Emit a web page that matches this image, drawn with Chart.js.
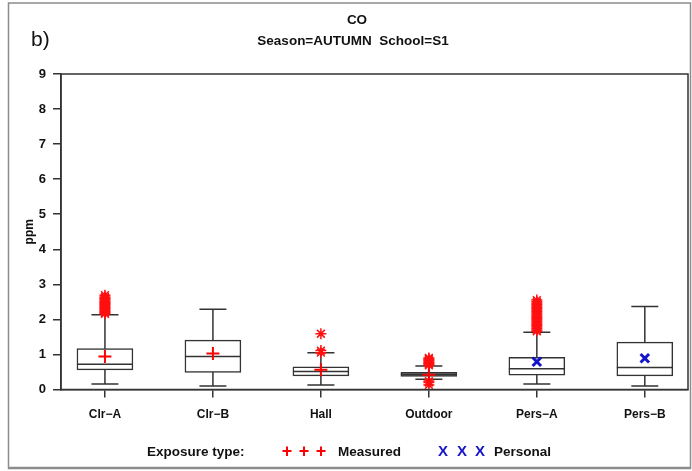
<!DOCTYPE html>
<html>
<head>
<meta charset="utf-8">
<script src="https://cdn.jsdelivr.net/npm/chart.js@4.4.0/dist/chart.umd.min.js"></script>
<style>
    html, body { margin: 0; padding: 0; background: #fff; }
</style>
</head>
<body>
<canvas id="myChart" width="692" height="471"></canvas>
<script>
// data
const categories = ['Clr−A', 'Clr−B', 'Hall', 'Outdoor', 'Pers−A', 'Pers−B'];
const yTicks = [0, 1, 2, 3, 4, 5, 6, 7, 8, 9];

const whiskerLow = [0.16, 0.10, 0.13, 0.29, 0.16, 0.10];
const q1 = [0.56, 0.49, 0.39, 0.37, 0.41, 0.39];
const median = [0.72, 0.94, 0.51, 0.43, 0.59, 0.63];
const q3 = [1.17, 1.41, 0.65, 0.49, 0.92, 1.35];
const whiskerHigh = [2.13, 2.29, 1.05, 0.67, 1.63, 2.37];

const measuredMean = [0.94, 1.03, 0.56, 0.42, null, null];
const personalMean = [null, null, null, null, 0.79, 0.89];

const outliersClrA = [2.16, 2.19, 2.22, 2.25, 2.28, 2.31, 2.34, 2.37, 2.40, 2.43, 2.46, 2.49, 2.52, 2.55, 2.58, 2.61, 2.64, 2.69];
const outliersHall = [1.05, 1.11, 1.59];
const outliersOutdoor = [0.13, 0.20, 0.24, 0.69, 0.72, 0.75, 0.78, 0.81, 0.84, 0.87, 0.90];
const outliersPersA = [1.66, 1.70, 1.74, 1.78, 1.82, 1.86, 1.90, 1.94, 1.98, 2.02, 2.06, 2.10, 2.14, 2.18, 2.22, 2.26, 2.30, 2.34, 2.38, 2.42, 2.46, 2.50, 2.55];

const outliers = [
    [0, outliersClrA],
    [2, outliersHall],
    [3, outliersOutdoor],
    [4, outliersPersA],
];

const boxFill = ['#ffffff', '#ffffff', '#ffffff', '#9a9a9a', '#ffffff', '#ffffff'];
const lineColor = '#333333';

// whiskers behind boxes, medians on top of the boxes, frame + texts at the end
const boxPlotPlugin = {
    id: 'boxPlot',
    beforeDatasetsDraw(chart) {
        const ctx = chart.ctx;
        const xs = chart.scales.x, ys = chart.scales.y;
        ctx.save();
        ctx.strokeStyle = lineColor;
        ctx.lineWidth = 1.5;
        categories.forEach((c, i) => {
            const x = xs.getPixelForValue(i + 1);
            const lo = ys.getPixelForValue(whiskerLow[i]);
            const hi = ys.getPixelForValue(whiskerHigh[i]);
            ctx.beginPath();
            ctx.moveTo(x, lo); ctx.lineTo(x, hi);
            ctx.moveTo(x - 13.5, lo); ctx.lineTo(x + 13.5, lo);
            ctx.moveTo(x - 13.5, hi); ctx.lineTo(x + 13.5, hi);
            ctx.stroke();
        });
        ctx.restore();
    },
    afterDatasetDraw(chart, args) {
        if (args.index !== 0) return;
        const ctx = chart.ctx;
        const xs = chart.scales.x, ys = chart.scales.y;
        ctx.save();
        ctx.strokeStyle = lineColor;
        ctx.lineWidth = 1.5;
        categories.forEach((c, i) => {
            const x = xs.getPixelForValue(i + 1);
            const y = ys.getPixelForValue(median[i]);
            ctx.beginPath();
            ctx.moveTo(x - 28, y); ctx.lineTo(x + 28, y);
            ctx.stroke();
        });
        ctx.restore();
    },
    afterDraw(chart) {
        const ctx = chart.ctx;
        const a = chart.chartArea;
        ctx.save();
        // plot frame
        ctx.strokeStyle = lineColor;
        ctx.lineWidth = 1.5;
        ctx.strokeRect(a.left, a.top, a.right - a.left, a.bottom - a.top);
        // outer border of the figure
        ctx.strokeStyle = '#8c8c8c';
        ctx.lineWidth = 1.5;
        ctx.strokeRect(8.5, 3, 682, 465);
        ctx.lineWidth = 2.5;
        ctx.beginPath(); ctx.moveTo(8, 468); ctx.lineTo(691, 468); ctx.stroke();

        ctx.fillStyle = '#111';
        ctx.textBaseline = 'alphabetic';
        ctx.font = '21px "Liberation Sans", Arial, sans-serif';
        ctx.textAlign = 'left';
        ctx.fillText('b)', 31, 46);

        ctx.font = 'bold 13.5px "Liberation Sans", Arial, sans-serif';
        ctx.textAlign = 'center';
        ctx.fillText('CO', 357, 24);
        ctx.fillText('Season=AUTUMN  School=S1', 353, 45);

        // legend
        ctx.textAlign = 'left';
        ctx.fillText('Exposure type:', 147, 456);
        ctx.fillText('Measured', 338, 456);
        ctx.fillText('Personal', 494, 456);
        ctx.fillStyle = '#ff0000';
        ctx.font = 'bold 18px "Liberation Sans", Arial, sans-serif';
        ctx.textAlign = 'center';
        [287, 304, 321].forEach(x => ctx.fillText('+', x, 457));
        ctx.fillStyle = '#1414c8';
        ctx.font = 'bold 15px "Liberation Sans", Arial, sans-serif';
        [443, 462, 480].forEach(x => ctx.fillText('X', x, 456));
        ctx.restore();
    }
};

const outlierPoints = [];
outliers.forEach(([i, vals]) => vals.forEach(v => outlierPoints.push({ x: i + 1, y: v })));

const ctx = document.getElementById('myChart');
const myChart = new Chart(ctx, {
    type: 'bar',
    data: {
        datasets: [
            {
                label: 'Box',
                type: 'bar',
                order: 3,
                data: categories.map((c, i) => ({ x: i + 1, y: [q1[i], q3[i]] })),
                backgroundColor: boxFill,
                borderColor: lineColor,
                borderWidth: 1.5,
                borderSkipped: false,
                barThickness: 56,
            },
            {
                label: 'Outliers',
                type: 'scatter',
                order: 2,
                data: outlierPoints,
                pointStyle: 'star',
                radius: 5.5,
                borderColor: '#ff1010',
                borderWidth: 1.5,
            },
            {
                label: 'Measured',
                type: 'scatter',
                order: 1,
                data: measuredMean.map((v, i) => ({ x: i + 1, y: v })),
                pointStyle: 'cross',
                radius: 6.5,
                borderColor: '#ff0000',
                borderWidth: 2,
            },
            {
                label: 'Personal',
                type: 'scatter',
                order: 0,
                data: personalMean.map((v, i) => ({ x: i + 1, y: v })),
                pointStyle: 'crossRot',
                radius: 6,
                borderColor: '#1414c8',
                borderWidth: 3,
            },
        ]
    },
    options: {
        responsive: false,
        animation: false,
        devicePixelRatio: 1,
        layout: { autoPadding: false, padding: { left: 22, right: 4, top: 74, bottom: 40 } },
        plugins: {
            legend: { display: false },
            tooltip: { enabled: false },
        },
        scales: {
            x: {
                type: 'linear',
                min: 0.593,
                max: 6.4,
                offset: false,
                afterBuildTicks: (s) => { s.ticks = categories.map((c, i) => ({ value: i + 1 })); },
                afterFit: (s) => { s.height = 41.5; s.paddingLeft = 0; s.paddingRight = 0; },
                ticks: {
                    callback: (v) => categories[v - 1],
                    autoSkip: false,
                    maxRotation: 0,
                    padding: 10,
                    color: '#111',
                    font: { family: '"Liberation Sans", Arial, sans-serif', size: 12, weight: 'bold' },
                },
                grid: { offset: false, drawOnChartArea: false, tickLength: 8, color: lineColor, lineWidth: 1.5 },
                border: { display: true, color: lineColor, width: 1.5 },
            },
            y: {
                min: 0,
                max: 9,
                afterBuildTicks: (s) => { s.ticks = yTicks.map(v => ({ value: v })); },
                afterFit: (s) => { s.width = 39; },
                ticks: {
                    padding: 7,
                    color: '#111',
                    font: { family: '"Liberation Sans", Arial, sans-serif', size: 13, weight: 'bold' },
                },
                grid: { drawOnChartArea: false, tickLength: 8, color: lineColor, lineWidth: 1.5 },
                border: { display: true, color: lineColor, width: 1.5 },
                title: {
                    display: true,
                    text: 'ppm',
                    color: '#111',
                    padding: 0,
                    font: { family: '"Liberation Sans", Arial, sans-serif', size: 12, weight: 'bold' },
                },
            },
        },
    },
    plugins: [boxPlotPlugin],
});
</script>
</body>
</html>
